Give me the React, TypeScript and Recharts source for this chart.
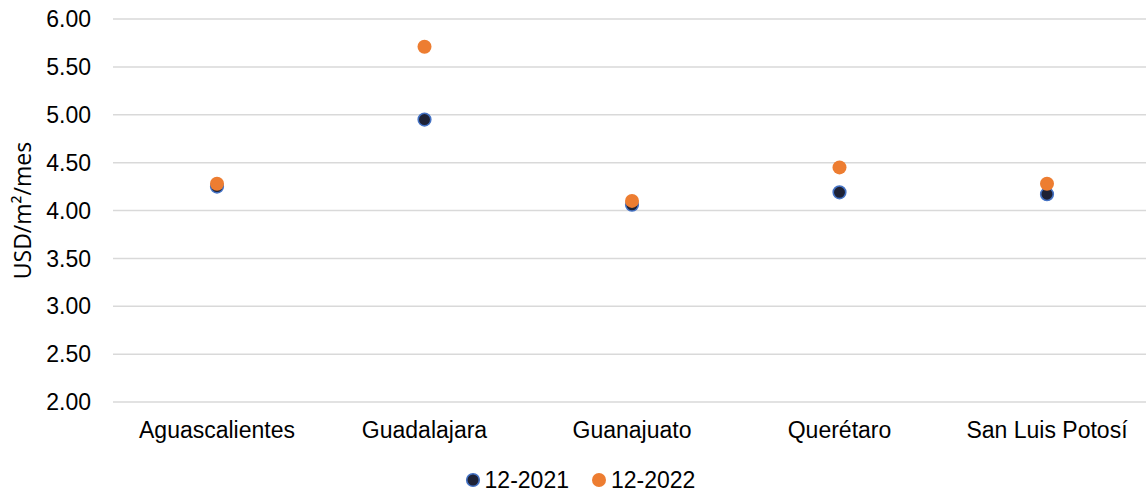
import React from "react";
import {
  ComposedChart,
  Scatter,
  XAxis,
  YAxis,
  CartesianGrid,
  Legend,
  Label,
} from "recharts";

// Industrial rent by market, USD per m² per month
const cities = ["Aguascalientes", "Guadalajara", "Guanajuato", "Querétaro", "San Luis Potosí"];
const rent2021 = [4.25, 4.95, 4.06, 4.19, 4.17];
const rent2022 = [4.28, 5.71, 4.1, 4.45, 4.28];
const yTicks = [2, 2.5, 3, 3.5, 4, 4.5, 5, 5.5, 6];

const series = [
  { key: "r2021", name: "12-2021", fill: "#1e2236", stroke: "#4472c4" },
  { key: "r2022", name: "12-2022", fill: "#ed7d31", stroke: "none" },
];

const rows = cities.map((city, i) => ({
  city,
  r2021: rent2021[i],
  r2022: rent2022[i],
}));

const TICK_FONT = "'Liberation Sans', Arial, sans-serif";
const W = 1160;
const H = 494;

const makeDot = (fill: string, stroke: string) => (p: any) => {
  if (p.cx == null || p.cy == null) return <g />;
  return (
    <circle
      cx={p.cx}
      cy={p.cy}
      r={stroke === "none" ? 7 : 6.3}
      fill={fill}
      stroke={stroke}
      strokeWidth={stroke === "none" ? 0 : 1.6}
    />
  );
};

const LegendContent = (props: any) => {
  const payload = props.payload || [];
  return (
    <div
      style={{
        display: "flex",
        justifyContent: "center",
        alignItems: "center",
        fontFamily: TICK_FONT,
        fontSize: 23,
        lineHeight: "26px",
        color: "#000",
      }}
    >
      {payload.map((entry: any, i: number) => {
        const s = series.find((x) => x.name === entry.value) || series[i];
        return (
          <span
            key={entry.value}
            style={{
              display: "inline-flex",
              alignItems: "center",
              marginRight: i < payload.length - 1 ? 22 : 0,
            }}
          >
            <svg width={16} height={16} style={{ marginRight: 4 }}>
              <circle
                cx={8}
                cy={8}
                r={s.stroke === "none" ? 7 : 6.3}
                fill={s.fill}
                stroke={s.stroke}
                strokeWidth={s.stroke === "none" ? 0 : 1.6}
              />
            </svg>
            <span>{entry.value}</span>
          </span>
        );
      })}
    </div>
  );
};

export default function App() {
  return (
    <div
      style={{
        position: "absolute",
        left: 0,
        top: 0,
        width: 1146,
        height: H,
        overflow: "hidden",
        background: "#fff",
      }}
    >
      <ComposedChart
        width={W}
        height={H}
        data={rows}
        margin={{ top: 19, right: 9, bottom: 62, left: 0 }}
      >
        <CartesianGrid vertical={false} stroke="#d9d9d9" strokeWidth={1.5} />
        <XAxis
          dataKey="city"
          type="category"
          height={30}
          padding={{ left: 104, right: 104 }}
          axisLine={false}
          tickLine={false}
          tickMargin={14}
          interval={0}
          tick={{ fontFamily: TICK_FONT, fontSize: 23, fill: "#000" }}
        />
        <YAxis
          type="number"
          domain={[2, 6]}
          ticks={yTicks}
          width={113}
          axisLine={false}
          tickLine={false}
          tickMargin={16}
          tickFormatter={(v: number) => v.toFixed(2)}
          tick={{ fontFamily: TICK_FONT, fontSize: 23, fill: "#000" }}
        >
          <Label
            value="USD/m²/mes"
            angle={-90}
            position="center"
            dx={-34}
            style={{
              fontFamily: "'Open Sans', sans-serif",
              fontSize: 23,
              fill: "#000",
              textAnchor: "middle",
            }}
          />
        </YAxis>
        <Legend
          layout="horizontal"
          verticalAlign="middle"
          align="center"
          wrapperStyle={{ top: 467, left: 0, width: W }}
          content={LegendContent}
        />
        {series.map((s) => (
          <Scatter
            key={s.key}
            name={s.name}
            dataKey={s.key}
            fill={s.fill}
            isAnimationActive={false}
            shape={makeDot(s.fill, s.stroke)}
          />
        ))}
      </ComposedChart>
    </div>
  );
}
